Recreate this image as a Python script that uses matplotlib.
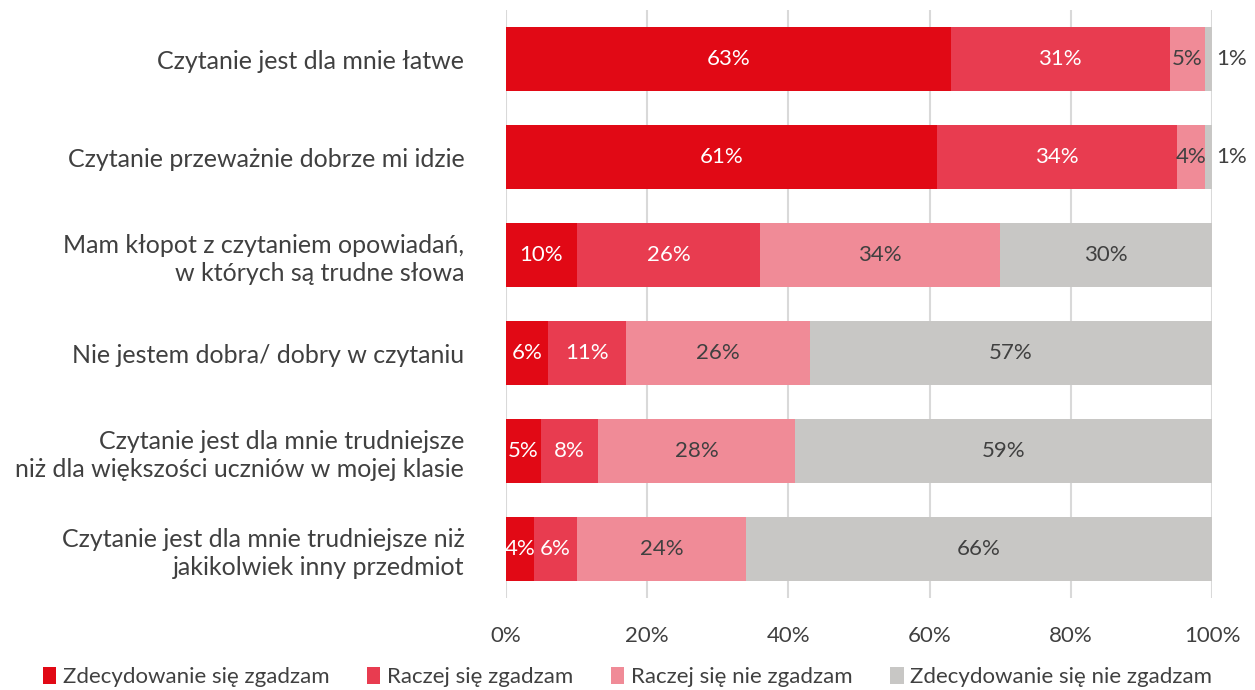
import matplotlib.pyplot as plt
import numpy as np

plt.rcParams['font.family'] = ['Lato', 'DejaVu Sans']

# Dane
pytania = [
    'Czytanie jest dla mnie łatwe',
    'Czytanie przeważnie dobrze mi idzie',
    'Mam kłopot z czytaniem opowiadań,\nw których są trudne słowa',
    'Nie jestem dobra/ dobry w czytaniu',
    'Czytanie jest dla mnie trudniejsze\nniż dla większości uczniów w mojej klasie',
    'Czytanie jest dla mnie trudniejsze niż\njakikolwiek inny przedmiot',
]
kategorie = ['Zdecydowanie się zgadzam', 'Raczej się zgadzam',
             'Raczej się nie zgadzam', 'Zdecydowanie się nie zgadzam']
zdecydowanie_tak = [63, 61, 10, 6, 5, 4]
raczej_tak = [31, 34, 26, 11, 8, 6]
raczej_nie = [5, 4, 34, 26, 28, 24]
zdecydowanie_nie = [1, 1, 30, 57, 59, 66]

serie = [zdecydowanie_tak, raczej_tak, raczej_nie, zdecydowanie_nie]
kolory = ['#E10915', '#E83C50', '#F08B97', '#C8C7C5']
kolory_tekstu = ['white', 'white', '#404040', '#404040']

fig = plt.figure(figsize=(12.55, 6.9), dpi=100)
ax = fig.add_axes([0.4032, 0.1333, 0.5625, 0.8522])

y = np.arange(len(pytania))
lewo = np.zeros(len(pytania))
for vals, kol, kt, nazwa in zip(serie, kolory, kolory_tekstu, kategorie):
    vals = np.array(vals)
    ax.barh(y, vals, left=lewo, height=0.66, color=kol, label=nazwa, zorder=2)
    for i, v in enumerate(vals):
        if v <= 1:
            ax.text(lewo[i] + v + 0.6, y[i], f'{v}%', ha='left', va='center',
                    color='#404040', fontsize=16)
        else:
            ax.text(lewo[i] + v / 2, y[i], f'{v}%', ha='center', va='center',
                    color=kt, fontsize=16)
    lewo += vals

ax.set_xlim(0, 100)
ax.set_ylim(len(pytania) - 0.5, -0.5)
ax.set_yticks(y)
ax.set_yticklabels(pytania, fontsize=18, color='#404040', linespacing=1.25)
ax.set_xticks(range(0, 101, 20))
ax.set_xticklabels([f'{t}%' for t in range(0, 101, 20)], fontsize=16, color='#404040')
ax.tick_params(axis='both', length=0)
ax.tick_params(axis='y', pad=30)
ax.tick_params(axis='x', pad=20)
ax.grid(axis='x', color='#D9D9D9', linewidth=1.5, zorder=0)
for s in ax.spines.values():
    s.set_visible(False)

fig.legend(loc='lower center', bbox_to_anchor=(0.5, -0.025), ncol=4, frameon=False,
           fontsize=16, handlelength=0.6, handleheight=0.8, handletextpad=0.3,
           columnspacing=1.7, labelcolor='#404040')

fig.savefig('out.png', dpi=100)
